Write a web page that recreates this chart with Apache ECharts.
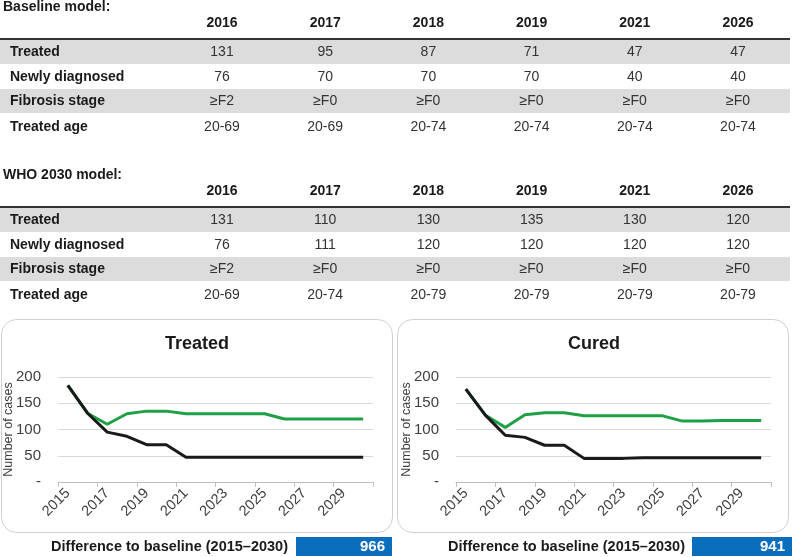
<!DOCTYPE html>
<html>
<head>
<meta charset="utf-8">
<script src="https://cdn.jsdelivr.net/npm/echarts@6/dist/echarts.min.js"></script>
<style>
html,body{margin:0;padding:0;background:#fff;}
#c{width:792px;height:557px;}
</style>
</head>
<body>
<div id="c"></div>
<script>
// ---- table data ----
var tableYears = ['2016', '2017', '2018', '2019', '2021', '2026'];
var rowLabels = ['Treated', 'Newly diagnosed', 'Fibrosis stage', 'Treated age'];
var baseTreated = ['131', '95', '87', '71', '47', '47'];
var baseNewDiag = ['76', '70', '70', '70', '40', '40'];
var baseFibrosis = ['≥F2', '≥F0', '≥F0', '≥F0', '≥F0', '≥F0'];
var baseAge = ['20-69', '20-69', '20-74', '20-74', '20-74', '20-74'];
var whoTreated = ['131', '110', '130', '135', '130', '120'];
var whoNewDiag = ['76', '111', '120', '120', '120', '120'];
var whoFibrosis = ['≥F2', '≥F0', '≥F0', '≥F0', '≥F0', '≥F0'];
var whoAge = ['20-69', '20-74', '20-79', '20-79', '20-79', '20-79'];

// ---- chart data ----
var years = ['2015','2016','2017','2018','2019','2020','2021','2022','2023','2024','2025','2026','2027','2028','2029','2030'];
var treatedBaseline = [184, 131, 95, 87, 71, 71, 47, 47, 47, 47, 47, 47, 47, 47, 47, 47];
var treatedWHO      = [184, 131, 110, 130, 135, 135, 130, 130, 130, 130, 130, 120, 120, 120, 120, 120];
var curedBaseline   = [177, 127, 89, 85, 70, 70, 45, 45, 45, 46, 46, 46, 46, 46, 46, 46];
var curedWHO        = [177, 127, 104, 128, 132, 132, 126, 126, 126, 126, 126, 116, 116, 117, 117, 117];
var yTicks = [0, 50, 100, 150, 200];
var diffTreated = '966';
var diffCured = '941';

var FF = '"Liberation Sans", Arial, Helvetica, sans-serif';
var graphics = [];

function txt(t, x, y, size, weight, color, align) {
  graphics.push({
    type: 'text',
    style: {
      text: t, x: x, y: y, fontSize: size, fontWeight: weight, fontFamily: FF,
      fill: color, align: align || 'center', verticalAlign: 'middle'
    }
  });
}
function rect(x, y, w, h, fill) {
  graphics.push({ type: 'rect', shape: { x: x, y: y, width: w, height: h }, style: { fill: fill } });
}

function buildTable(y0, title, rows) {
  txt(title, 3, y0 + 7.5, 14, 'bold', '#1a1a1a', 'left');
  rect(0, y0 + 40, 790, 24, '#dcdcdc');
  rect(0, y0 + 89, 790, 24, '#dcdcdc');
  rect(0, y0 + 38, 790, 2, '#333333');
  var colX = function (i) { return 222 + i * 103.2; };
  tableYears.forEach(function (yr, i) {
    txt(yr, colX(i), y0 + 23, 14, 'bold', '#1a1a1a');
  });
  var rowY = [52, 77, 101.5, 127];
  rowLabels.forEach(function (lab, r) {
    txt(lab, 10, y0 + rowY[r], 14, 'bold', '#1a1a1a', 'left');
    rows[r].forEach(function (v, i) {
      txt(v, colX(i), y0 + rowY[r], 14, 'normal', '#333333');
    });
  });
}
buildTable(0, 'Baseline model:', [baseTreated, baseNewDiag, baseFibrosis, baseAge]);
buildTable(168, 'WHO 2030 model:', [whoTreated, whoNewDiag, whoFibrosis, whoAge]);

// panels
[[1, 'Treated', 197, diffTreated, 288, 296, 392], [397, 'Cured', 594, diffCured, 685, 692, 792]].forEach(function (p) {
  graphics.push({
    type: 'rect',
    shape: { x: p[0] + 0.5, y: 319.5, width: 391, height: 213, r: 15 },
    style: { fill: 'none', stroke: '#d0d0d0', lineWidth: 1 }
  });
  txt(p[1], p[2], 344, 18, 'bold', '#1a1a1a');
  txt('Difference to baseline (2015–2030)', p[4], 547, 14.5, 'bold', '#1a1a1a', 'right');
  rect(p[5], 537, p[6] - p[5], 19, '#0a6ebd');
  txt(p[3], p[6] - 7, 547, 15, 'bold', '#ffffff', 'right');
});

function xAxisCfg(idx) {
  return {
    type: 'category', gridIndex: idx, data: years, boundaryGap: true,
    axisLine: { lineStyle: { color: '#bfbfbf', width: 1 } },
    axisTick: { show: true, interval: 1, length: 5, lineStyle: { color: '#bfbfbf' } },
    axisLabel: { interval: 1, rotate: 45, margin: 9, fontSize: 14.5, color: '#404040', fontFamily: FF }
  };
}
function yAxisCfg(idx) {
  return {
    type: 'value', gridIndex: idx, min: yTicks[0], max: yTicks[yTicks.length - 1], interval: 50,
    name: 'Number of cases', nameLocation: 'middle', nameGap: 43, nameMoveOverlap: false,
    nameTextStyle: { fontSize: 12.5, color: '#404040', fontFamily: FF },
    axisLine: { show: false }, axisTick: { show: false },
    splitLine: { lineStyle: { color: '#d9d9d9', width: 1 } },
    axisLabel: {
      margin: 17, fontSize: 15, color: '#404040', fontFamily: FF,
      formatter: function (v) { return v === 0 ? '-' : String(v); }
    }
  };
}
function lineS(idx, data, color, z) {
  return {
    type: 'line', xAxisIndex: idx, yAxisIndex: idx, data: data, symbol: 'none',
    lineStyle: { color: color, width: 3 }, itemStyle: { color: color }, z: z, animation: false
  };
}

var chart = echarts.init(document.getElementById('c'), null, { renderer: 'canvas' });
chart.setOption({
  animation: false,
  grid: [
    { left: 58, top: 377, width: 315, height: 105 },
    { left: 456, top: 377, width: 315, height: 105 }
  ],
  xAxis: [xAxisCfg(0), xAxisCfg(1)],
  yAxis: [yAxisCfg(0), yAxisCfg(1)],
  series: [
    lineS(0, treatedWHO, '#1fa046', 2),
    lineS(0, treatedBaseline, '#1a1a1a', 3),
    lineS(1, curedWHO, '#1fa046', 2),
    lineS(1, curedBaseline, '#1a1a1a', 3)
  ],
  graphic: graphics
});
</script>
</body>
</html>
